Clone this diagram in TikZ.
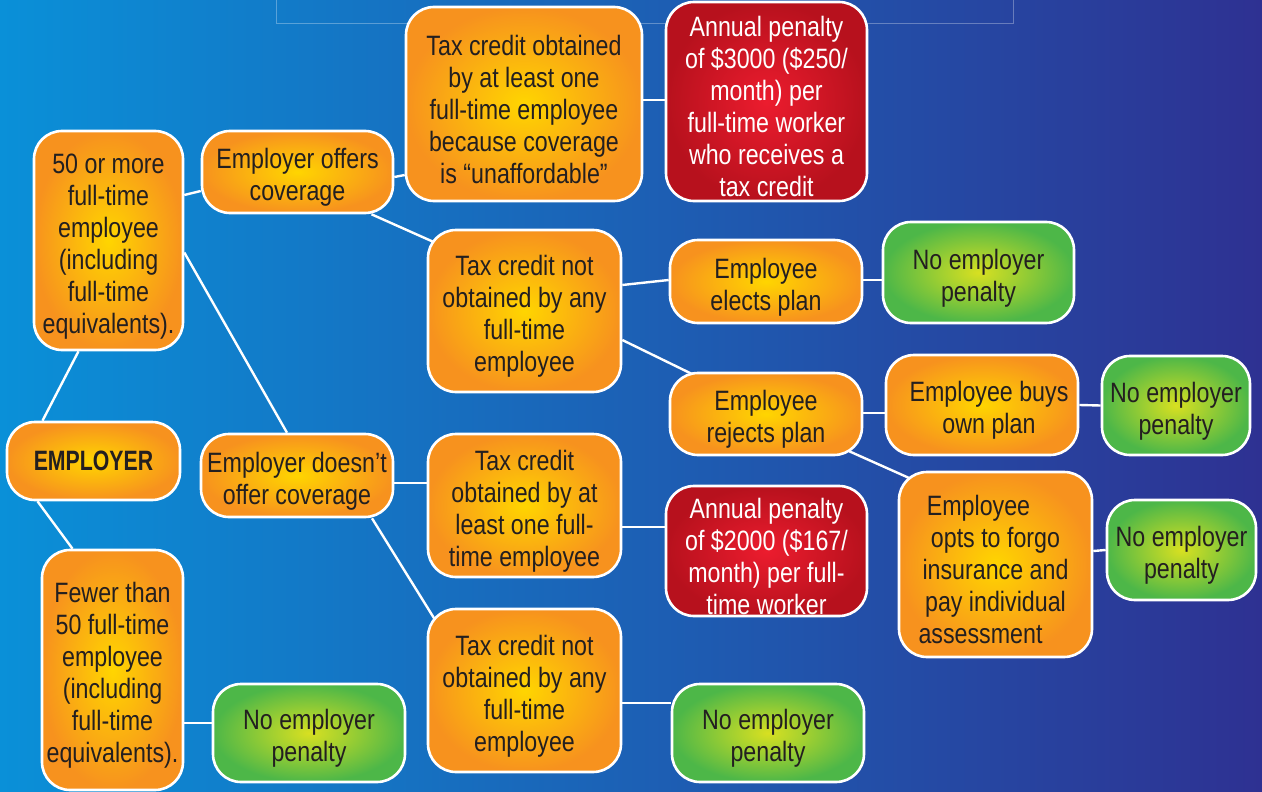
\documentclass[tikz,border=0pt]{standalone}
\usepackage{fontspec}
\setmainfont{Liberation Sans}[FakeStretch=0.83]
\newfontfamily\empfont{Liberation Sans}[FakeStretch=0.76]
\usetikzlibrary{calc}
\pgfdeclarelayer{bg}
\pgfdeclarelayer{edges}
\pgfsetlayers{bg,edges,main}
\newcommand\fl{\rule{0pt}{31pt}}
\definecolor{bgleft}{HTML}{0A90D8}
\definecolor{bgmid}{HTML}{0062B2}
\definecolor{bgright}{HTML}{2E3192}
\definecolor{oyel}{HTML}{FFD500}
\definecolor{oorg}{HTML}{F7921E}
\definecolor{rin}{HTML}{EC1C2E}
\definecolor{rout}{HTML}{B7111D}
\definecolor{gin}{HTML}{D8E021}
\definecolor{gout}{HTML}{4DB748}
\definecolor{txtdark}{HTML}{231F20}
\tikzset{
  box/.style={draw=white, line width=2.6pt, rounded corners=28pt, align=center,
    inner sep=0pt, font=\fontsize{28}{32}\selectfont, text=txtdark},
  orangebox/.style={box, inner color=oyel, outer color=oorg},
  redbox/.style={box, inner color=rin, outer color=rout, text=white},
  greenbox/.style={box, inner color=gin, outer color=gout},
  wh/.style 2 args={minimum width=#1pt, minimum height=#2pt},
  link/.style={draw=white, line width=2.4pt}
}
\begin{document}
\begin{tikzpicture}[x=1pt,y=-1pt]
\useasboundingbox (0,0) rectangle (1262,792);
\begin{pgfonlayer}{bg}
  \shade[left color=bgleft, middle color=bgmid, right color=bgright] (0,0) rectangle (1262,792);
  \draw[white, opacity=0.3, line width=0.8pt] (276,-5) rectangle (1013,23);
\end{pgfonlayer}

% nodes
\node[orangebox, wh={149}{219}] (A) at (108.5,240.5) {\fl 50 or more\\full-time\\employee\\(including\\full-time\\equivalents).};
\node[orangebox, wh={173}{78}, font=\empfont\fontsize{28}{32}\selectfont\bfseries] (EMP) at (93.5,461) {EMPLOYER};
\node[orangebox, wh={141}{240}] (F) at (112.5,670) {\fl Fewer than\\50 full-time\\employee\\(including\\full-time\\equivalents).};
\node[greenbox, wh={192}{98}] (NP1) at (309,733) {\fl No employer\\penalty};
\node[orangebox, wh={191}{82}] (EOC) at (297.5,172) {\fl Employer offers\\coverage};
\node[orangebox, wh={192}{83}] (EDC) at (297,475.5) {\fl Employer doesn’t\\offer coverage};
\node[orangebox, wh={236}{194}] (T1) at (524,104) {\fl Tax credit obtained\\by at least one\\full-time employee\\because coverage\\is “unaffordable”};
\node[redbox, wh={201}{199}] (R1) at (766.5,101.5) {\fl Annual penalty\\of \$3000 (\$250/\\month) per\\full-time worker\\who receives a\\tax credit};
\node[orangebox, wh={193}{162}] (T2) at (524.5,311) {\fl Tax credit not\\obtained by any\\full-time\\employee};
\node[orangebox, wh={192}{83}] (EEP) at (766,281.5) {\fl Employee\\elects plan};
\node[greenbox, wh={191}{101}] (NP2) at (978.5,272.5) {\fl No employer\\penalty};
\node[orangebox, wh={192}{82}] (ERP) at (766,414) {\fl Employee\\rejects plan};
\node[orangebox, wh={192}{100}] (EBO) at (982,405) {\fl\hspace*{14pt}Employee buys\\\hspace*{14pt}own plan};
\node[greenbox, wh={148}{99}] (NP3) at (1176,405.5) {\fl No employer\\penalty};
\node[orangebox, wh={193}{185}] (EOF) at (995.5,564.5) {\fl Employee\hspace*{34pt}\\opts to forgo\hspace*{34pt}\\insurance and\hspace*{28pt}\\pay individual\hspace*{28pt}\\assessment\hspace*{30pt}};
\node[greenbox, wh={149}{100}] (NP4) at (1181.5,550) {\fl No employer\\penalty};
\node[orangebox, wh={193}{143}] (T3) at (524.5,505.5) {\fl Tax credit\\obtained by at\\least one full-\\time employee};
\node[redbox, wh={201}{130}] (R2) at (766.5,551) {\fl Annual penalty\\of \$2000 (\$167/\\month) per full-\\time worker};
\node[orangebox, wh={193}{163}] (T4) at (524.5,690.5) {\fl Tax credit not\\obtained by any\\full-time\\employee};
\node[greenbox, wh={192}{98}] (NP5) at (768,733) {\fl No employer\\penalty};

% connectors
\begin{pgfonlayer}{edges}
  \draw[link] ($(EMP.north)+(-51,0)$) -- ($(A.south)+(-30,0)$);
  \draw[link] ($(EMP.south)+(-56,0)$) -- ($(F.north)+(-40,0)$);
  \draw[link] ($(A.east)+(0,-45.5)$) -- ($(EOC.west)+(0,19)$);
  \draw[link] ($(A.east)+(0,12)$) -- ($(EDC.north)+(-10,0)$);
  \draw[link] ($(EOC.east)+(0,5)$) -- ($(T1.west)+(0,71)$);
  \draw[link] ($(EOC.south)+(74,0)$) -- ($(T2.north west)+(22,20)$);
  \draw[link] ($(T1.east)+(0,-4)$) -- ($(R1.west)+(0,-1.5)$);
  \draw[link] ($(T2.east)+(0,-26)$) -- ($(EEP.west)+(0,-1.5)$);
  \draw[link] ($(T2.east)+(0,29)$) -- ($(ERP.north west)+(35,8)$);
  \draw[link] ($(EEP.east)+(0,-1.5)$) -- ($(NP2.west)+(0,7.5)$);
  \draw[link] ($(ERP.east)+(0,-1)$) -- ($(EBO.west)+(0,8)$);
  \draw[link] (EBO.east) -- (NP3.west);
  \draw[link] ($(ERP.south east)+(-14,-5)$) -- ($(EOF.north west)+(13,8)$);
  \draw[link] ($(EOF.east)+(0,-13.5)$) -- (NP4.west);
  \draw[link] ($(EDC.east)+(0,7.5)$) -- ($(T3.west)+(0,-22.5)$);
  \draw[link] ($(EDC.south)+(75,0)$) -- ($(T4.north west)+(12,18)$);
  \draw[link] ($(T3.east)+(0,21.5)$) -- ($(R2.west)+(0,-24)$);
  \draw[link] ($(T4.east)+(0,12.5)$) -- ($(NP5.west)+(0,-30)$);
  \draw[link] ($(F.east)+(0,53)$) -- ($(NP1.west)+(0,-10)$);
\end{pgfonlayer}
\end{tikzpicture}
\end{document}
